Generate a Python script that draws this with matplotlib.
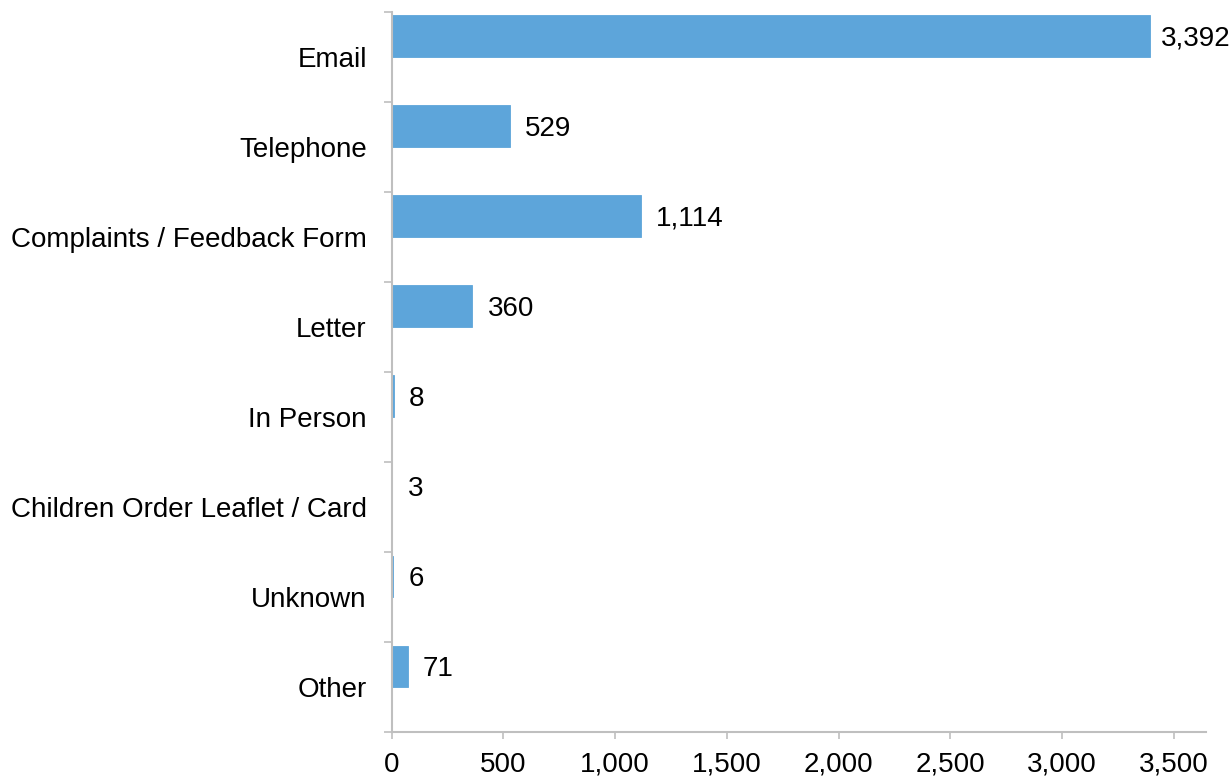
import matplotlib.pyplot as plt
import numpy as np

channels = ['Email', 'Telephone', 'Complaints / Feedback Form', 'Letter',
            'In Person', 'Children Order Leaflet / Card', 'Unknown', 'Other']
counts = [3392, 529, 1114, 360, 8, 3, 6, 71]

plt.rcParams['font.family'] = ['Liberation Sans', 'DejaVu Sans']

fig = plt.figure(figsize=(12.32, 7.78), dpi=100)
ax = fig.add_axes([0.318, 0.059, 0.661, 0.926])

pos = np.arange(len(channels))
# bars sit in the upper half of each category band
bars = ax.barh(pos - 0.23, counts, height=0.46, color='#5DA5DA',
               edgecolor='#5DA5DA', linewidth=0.6)
for b, v in zip(bars, counts):
    # the longest label gets pulled in a bit so it stays inside the figure
    off = 8 if v > 3000 else 11
    ax.annotate(f'{v:,}', (b.get_width(), b.get_y() + b.get_height() / 2),
                xytext=(off, -2), textcoords='offset points',
                va='center', ha='left', fontsize=20)

ax.set_ylim(len(channels) - 0.5, -0.5)
ax.set_xlim(0, 3645)
ax.set_xticks(np.arange(0, 3501, 500))
ax.xaxis.set_major_formatter(plt.FuncFormatter(lambda x, p: f'{int(x):,}'))

ax.set_yticks(pos)
ax.set_yticklabels(channels, fontsize=20)
ax.set_yticks(np.arange(-0.5, len(channels)), minor=True)
ax.tick_params(axis='y', which='major', length=0, pad=18)
ax.tick_params(axis='y', which='minor', length=6, color='#BFBFBF', width=1.2)
ax.tick_params(axis='x', length=5, color='#BFBFBF', width=1.2, labelsize=20, pad=9)

for s in ['top', 'right']:
    ax.spines[s].set_visible(False)
for s in ['left', 'bottom']:
    ax.spines[s].set_color('#BFBFBF')
    ax.spines[s].set_linewidth(1.5)

fig.savefig('out.png', dpi=100)
